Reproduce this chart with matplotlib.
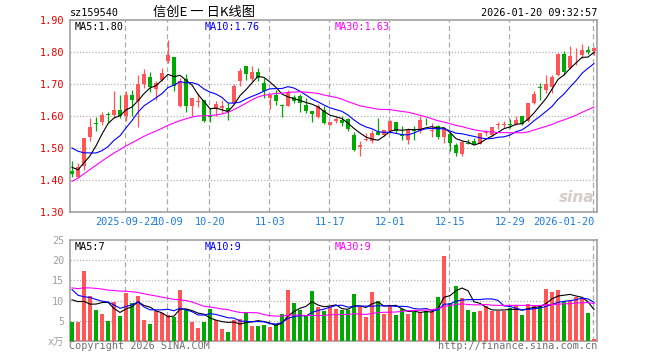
import numpy as np
import pandas as pd
import matplotlib
matplotlib.use("Agg")
import matplotlib.pyplot as plt

plt.rcParams['font.family'] = ['DejaVu Sans Mono', 'Noto Sans CJK SC']

# ---------------- data ----------------
holidays = ['2025-10-01', '2025-10-02', '2025-10-03', '2025-10-06', '2025-10-07',
            '2025-10-08', '2026-01-01', '2026-01-02']
dates = [d for d in pd.bdate_range('2025-09-09', '2026-01-20').strftime('%Y-%m-%d')
         if d not in holidays]

opens = [1.429, 1.408, 1.443, 1.533, 1.579, 1.581, 1.605, 1.604, 1.619, 1.599,
         1.667, 1.648, 1.700, 1.723, 1.685, 1.713, 1.771, 1.783, 1.630, 1.717,
         1.630, 1.645, 1.651, 1.604, 1.623, 1.625, 1.625, 1.641, 1.708, 1.755,
         1.715, 1.736, 1.703, 1.656, 1.667, 1.633, 1.632, 1.659, 1.662, 1.633,
         1.615, 1.596, 1.620, 1.573, 1.584, 1.589, 1.592, 1.542, 1.502, 1.526,
         1.521, 1.550, 1.542, 1.552, 1.581, 1.540, 1.526, 1.556, 1.552, 1.582,
         1.554, 1.568, 1.533, 1.544, 1.510, 1.481, 1.517, 1.523, 1.514, 1.546,
         1.540, 1.571, 1.571, 1.574, 1.575, 1.601, 1.583, 1.641, 1.688, 1.682,
         1.690, 1.727, 1.795, 1.750, 1.786, 1.792, 1.807, 1.802]
highs = [1.460, 1.453, 1.531, 1.594, 1.596, 1.612, 1.611, 1.679, 1.667, 1.677,
         1.680, 1.729, 1.747, 1.737, 1.709, 1.750, 1.838, 1.783, 1.720, 1.731,
         1.656, 1.672, 1.651, 1.625, 1.646, 1.651, 1.640, 1.700, 1.750, 1.755,
         1.757, 1.751, 1.719, 1.667, 1.682, 1.636, 1.682, 1.667, 1.669, 1.656,
         1.617, 1.638, 1.630, 1.581, 1.596, 1.599, 1.594, 1.550, 1.523, 1.548,
         1.555, 1.594, 1.557, 1.589, 1.581, 1.570, 1.562, 1.568, 1.599, 1.594,
         1.578, 1.573, 1.565, 1.549, 1.515, 1.521, 1.527, 1.531, 1.548, 1.557,
         1.566, 1.582, 1.584, 1.592, 1.599, 1.601, 1.641, 1.677, 1.703, 1.729,
         1.729, 1.797, 1.802, 1.820, 1.812, 1.825, 1.820, 1.815]
lows = [1.408, 1.406, 1.430, 1.521, 1.552, 1.573, 1.581, 1.594, 1.594, 1.583,
        1.600, 1.567, 1.688, 1.675, 1.651, 1.708, 1.766, 1.677, 1.627, 1.613,
        1.599, 1.627, 1.581, 1.581, 1.600, 1.609, 1.589, 1.636, 1.693, 1.714,
        1.710, 1.709, 1.656, 1.623, 1.633, 1.596, 1.630, 1.641, 1.612, 1.610,
        1.580, 1.594, 1.575, 1.571, 1.578, 1.568, 1.552, 1.490, 1.474, 1.521,
        1.517, 1.540, 1.537, 1.547, 1.547, 1.526, 1.513, 1.525, 1.547, 1.571,
        1.533, 1.529, 1.517, 1.491, 1.474, 1.474, 1.512, 1.511, 1.511, 1.536,
        1.537, 1.560, 1.561, 1.563, 1.573, 1.573, 1.581, 1.636, 1.651, 1.672,
        1.672, 1.724, 1.729, 1.748, 1.760, 1.781, 1.794, 1.792]
closes = [1.419, 1.440, 1.531, 1.567, 1.576, 1.604, 1.603, 1.620, 1.601, 1.667,
          1.650, 1.700, 1.731, 1.690, 1.704, 1.734, 1.792, 1.695, 1.710, 1.630,
          1.656, 1.646, 1.585, 1.597, 1.639, 1.630, 1.617, 1.693, 1.740, 1.731,
          1.736, 1.719, 1.677, 1.667, 1.648, 1.632, 1.675, 1.648, 1.641, 1.615,
          1.606, 1.632, 1.578, 1.581, 1.591, 1.578, 1.560, 1.495, 1.510, 1.527,
          1.548, 1.542, 1.557, 1.585, 1.554, 1.538, 1.555, 1.554, 1.589, 1.580,
          1.555, 1.533, 1.559, 1.516, 1.484, 1.519, 1.514, 1.513, 1.546, 1.547,
          1.566, 1.572, 1.572, 1.572, 1.589, 1.575, 1.641, 1.670, 1.687, 1.700,
          1.721, 1.794, 1.738, 1.789, 1.787, 1.807, 1.800, 1.812]
volumes = [4.75, 4.75, 17.25, 11.25, 7.67, 6.67, 5.0, 9.75, 6.25, 12.0,
           9.33, 11.25, 5.17, 4.17, 7.42, 6.83, 6.42, 6.0, 12.67, 7.83,
           4.75, 3.25, 4.75, 7.92, 5.17, 2.92, 2.25, 5.17, 5.42, 7.08,
           3.75, 3.75, 4.08, 3.5, 4.17, 6.58, 12.67, 9.5, 7.67, 6.42,
           12.42, 8.5, 7.42, 8.5, 7.92, 7.67, 7.67, 11.67, 8.5, 6.0,
           12.17, 9.92, 6.67, 8.92, 6.42, 7.92, 6.67, 7.08, 7.25, 7.42,
           7.42, 11.0, 21.0, 9.33, 13.5, 10.75, 7.67, 7.25, 7.42, 8.75,
           7.42, 7.42, 7.42, 8.08, 8.92, 6.42, 9.17, 8.92, 8.92, 12.92,
           12.25, 12.67, 9.92, 9.92, 11.0, 10.58, 7.0, 0.42]

# closes / volumes of the 29 sessions before the first visible candle (feed the MAs)
prior_closes = [1.12, 1.14, 1.16, 1.18, 1.20, 1.23, 1.25, 1.28,
                1.32, 1.36, 1.40, 1.42, 1.44, 1.46, 1.48, 1.51,
                1.47, 1.50, 1.46, 1.49,
                1.54, 1.58, 1.57, 1.58, 1.53, 1.48, 1.42, 1.46, 1.42]
prior_volumes = [10, 11, 12, 11, 12, 13, 12, 11.5, 12,
                 14, 16, 15, 13, 15, 16, 14, 15, 14, 15, 15,
                 19, 21, 13, 12.5, 11, 7.0, 17.0, 14.6, 7.65]

tick_dates = ['2025-09-22', '2025-10-09', '2025-10-20', '2025-11-03', '2025-11-17',
              '2025-12-01', '2025-12-15', '2025-12-29', '2026-01-20']
tick_labels = ['2025-09-22', '10-09', '10-20', '11-03', '11-17',
               '12-01', '12-15', '12-29', '2026-01-20']
price_ticks = [1.30, 1.40, 1.50, 1.60, 1.70, 1.80, 1.90]
vol_ticks = [0, 5, 10, 15, 20, 25]
vol_tick_labels = ['x万', '5', '10', '15', '20', '25']

code = 'sz159540'
title = '信创E 一 日K线图'
stamp = '2026-01-20 09:32:57'

# ---------------- derived ----------------
n = len(closes)
x = np.arange(n)
o = np.array(opens); h = np.array(highs); l = np.array(lows); c = np.array(closes)
v = np.array(volumes)
RED, GREEN = '#FF5757', '#00A800'
up = c >= o
cols = np.where(up, RED, GREEN)

cs = pd.Series(prior_closes + closes)
vs = pd.Series(prior_volumes + volumes)
ma = {p: cs.rolling(p).mean().to_numpy()[-n:] for p in (5, 10, 30)}
vma = {p: vs.rolling(p).mean().to_numpy()[-n:] for p in (5, 10, 30)}
ma_cols = {5: 'black', 10: '#0000FF', 30: '#FF00FF'}
tick_idx = [dates.index(d) for d in tick_dates]

W, H = 660, 360
def P(px, py):
    return px / W, 1 - py / H

fig = plt.figure(figsize=(6.6, 3.6), dpi=100)
fig.patch.set_facecolor('white')
ax = fig.add_axes([70 / W, 1 - 212 / H, 527 / W, 192 / H])
axv = fig.add_axes([70 / W, 1 - 341 / H, 527 / W, 101 / H])

GRID = '#AAAAAA'
for a in (ax, axv):
    a.set_xlim(-0.333, n - 0.5)
    for s in a.spines.values():
        s.set_color('#999999')
        s.set_linewidth(1.1)
    for t in tick_idx:
        a.axvline(t - 0.2, color=GRID, lw=0.9, ls=(0, (4.0, 2.6)), zorder=1)
    a.tick_params(length=0)

# price panel
ax.set_ylim(price_ticks[0], price_ticks[-1])
for yv in price_ticks[1:-1]:
    ax.axhline(yv, color=GRID, lw=0.9, ls=(0, (0.9, 1.6)), zorder=1)
ax.vlines(x, l, h, colors=cols, lw=0.9, zorder=3)
body_lo = np.minimum(o, c)
body_h = np.maximum(np.abs(c - o), 0.0028)
ax.bar(x, body_h, bottom=body_lo, width=0.8, color=cols, linewidth=0, zorder=4)
for p in (5, 10, 30):
    ax.plot(x, ma[p], color=ma_cols[p], lw=0.8, zorder=5)
ax.set_yticks(price_ticks)
ax.set_yticklabels(['%.2f' % t for t in price_ticks], color='#EE0000', fontsize=7.4)
ax.tick_params(axis='y', pad=4)
ax.set_xticks(tick_idx)
ax.set_xticklabels(tick_labels, color='#1C7CD5', fontsize=7.4)
ax.tick_params(axis='x', pad=3.5)
xl = ax.get_xticklabels()
xl[-1].set_horizontalalignment('right')

# volume panel
axv.set_ylim(0, 25)
for yv in vol_ticks[1:-1]:
    axv.axhline(yv, color=GRID, lw=0.9, ls=(0, (0.9, 1.6)), zorder=1)
axv.bar(x, v, width=0.83, color=cols, linewidth=0, zorder=3)
for p in (5, 10, 30):
    axv.plot(x, vma[p], color=ma_cols[p], lw=0.8, zorder=5)
axv.set_yticks(vol_ticks)
axv.set_yticklabels(vol_tick_labels, color='#A0A0A0', fontsize=7.4)
axv.tick_params(axis='y', pad=4)
axv.set_xticks([])

# header texts
fig.text(*P(70, 13), code, fontsize=7.3, va='center', ha='left', color='black')
fig.text(*P(204, 12), title, fontsize=9.5, va='center', ha='center', color='black',
         family=['Noto Sans CJK SC', 'DejaVu Sans'])
fig.text(*P(597, 13), stamp, fontsize=7.3, va='center', ha='right', color='black')

# MA legends
fig.text(*P(75, 27), 'MA5:%.2f' % ma[5][-1], fontsize=7.3, va='center', color=ma_cols[5])
fig.text(*P(205, 27), 'MA10:%.2f' % ma[10][-1], fontsize=7.3, va='center', color=ma_cols[10])
fig.text(*P(335, 27), 'MA30:%.2f' % ma[30][-1], fontsize=7.3, va='center', color=ma_cols[30])
fig.text(*P(75, 247), 'MA5:%d' % int(vma[5][-1]), fontsize=7.3, va='center', color=ma_cols[5])
fig.text(*P(205, 247), 'MA10:%d' % int(vma[10][-1]), fontsize=7.3, va='center', color=ma_cols[10])
fig.text(*P(335, 247), 'MA30:%d' % int(vma[30][-1]), fontsize=7.3, va='center', color=ma_cols[30])

# footer
fig.text(*P(69, 346), 'Copyright 2026 SINA.COM', fontsize=7.3, va='center', ha='left', color='#707070')
fig.text(*P(597, 346), 'http://finance.sina.com.cn', fontsize=7.3, va='center', ha='right', color='#707070')

# watermark
fig.text(*P(594, 197), 'sina', fontsize=11, va='center', ha='right', color='#D6CCCC',
         style='italic', weight='bold', family='DejaVu Sans')

fig.savefig('out.png', dpi=100, facecolor='white')
